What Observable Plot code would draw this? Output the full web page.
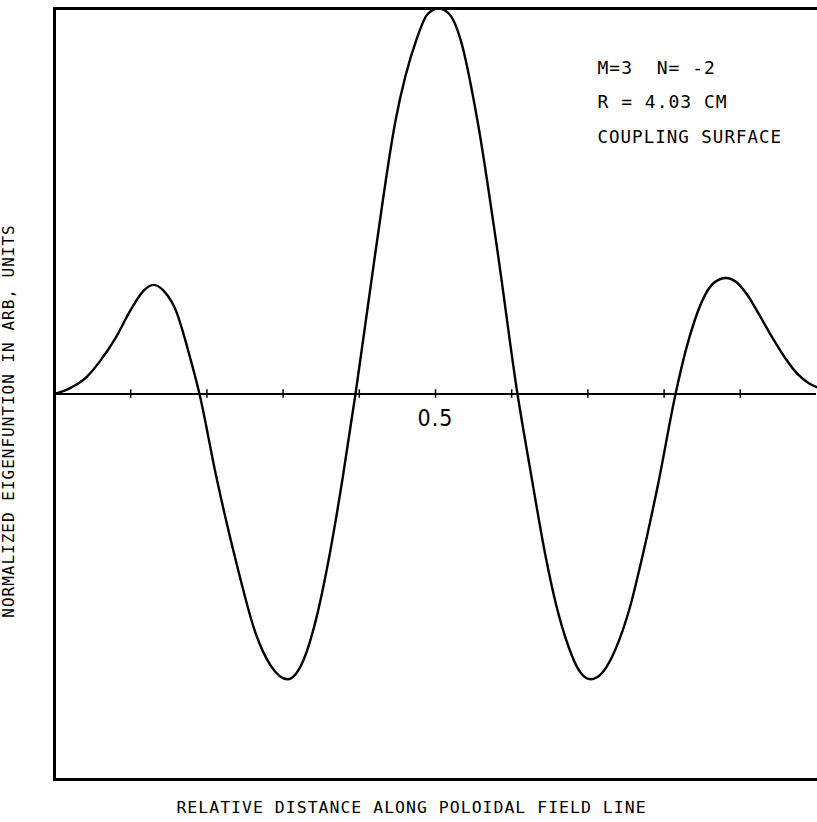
<!DOCTYPE html>
<html>
<head>
<meta charset="utf-8">
<script src="https://cdn.jsdelivr.net/npm/d3@7"></script>
<script src="https://cdn.jsdelivr.net/npm/@observablehq/plot@0.6"></script>
<style>
  html, body { margin: 0; padding: 0; background: #fff; }
  #chart svg { display: block; }
</style>
</head>
<body>
<div id="chart"></div>
<script>
// Relative distance along poloidal field line
const distance = [
  0.000, 0.021, 0.041, 0.060, 0.080, 0.100, 0.117, 0.130, 0.143, 0.161, 0.169, 0.178, 0.1903,
  0.2113, 0.2402, 0.2638, 0.2835, 0.3058, 0.3268, 0.3438, 0.3596, 0.3780, 0.3950,
  0.4199, 0.4475, 0.4751, 0.4895, 0.5039, 0.5184, 0.5328, 0.5551, 0.5814, 0.6076,
  0.6247, 0.6444, 0.6575, 0.6745, 0.6877, 0.7034, 0.7205, 0.7362, 0.7559, 0.7690, 0.7927, 0.8150,
  0.828, 0.840, 0.852, 0.865, 0.881, 0.895, 0.910, 0.925, 0.944, 0.960, 0.975, 0.990, 1.000
];
// Normalized eigenfunction (arb. units)
const eigen = [
  0.000, 0.016, 0.042, 0.086, 0.145, 0.218, 0.268, 0.283, 0.268, 0.208, 0.158, 0.094, 0.000,
  -0.205, -0.450, -0.620, -0.704, -0.740, -0.690, -0.580, -0.432, -0.220, 0.000,
  0.350, 0.709, 0.920, 0.985, 1.000, 0.985, 0.920, 0.709, 0.370, 0.000,
  -0.200, -0.420, -0.540, -0.655, -0.715, -0.740, -0.719, -0.662, -0.548, -0.443, -0.228, 0.000,
  0.110, 0.190, 0.250, 0.288, 0.301, 0.290, 0.255, 0.205, 0.140, 0.090, 0.052, 0.028, 0.018
];
const tickValues = [0.1, 0.2, 0.3, 0.4, 0.5, 0.6, 0.7, 0.8, 0.9];
const tickLabels = [{x: 0.5, label: "0.5"}];
const noteLines = ["M=3  N= -2", "R = 4.03 CM", "COUPLING SURFACE"];
const xTitle = "RELATIVE DISTANCE ALONG POLOIDAL FIELD LINE";
const yTitle = "NORMALIZED EIGENFUNTION IN ARB, UNITS";

const curve = distance.map((d, i) => ({x: d, y: eigen[i]}));
const font = "DejaVu Sans Mono, monospace";

const chart = Plot.plot({
  width: 817,
  height: 822,
  marginLeft: 54,
  marginRight: 1,
  marginTop: 8,
  marginBottom: 43,
  x: {domain: [0, 1], axis: null},
  y: {domain: [-1, 1], axis: null},
  style: {fontFamily: font, background: "#fff", color: "#000", overflow: "visible", letterSpacing: "1px"},
  marks: [
    // frame: left, top, bottom (right edge cut off)
    Plot.frame({anchor: "left", stroke: "#000", strokeWidth: 3}),
    Plot.frame({anchor: "top", stroke: "#000", strokeWidth: 3}),
    Plot.frame({anchor: "bottom", stroke: "#000", strokeWidth: 3}),
    Plot.ruleY([0], {stroke: "#000", strokeWidth: 2}),
    Plot.ruleX(tickValues, {y1: -0.011, y2: 0.011, stroke: "#000", strokeWidth: 1.5}),
    Plot.text(tickLabels, {x: "x", y: 0, text: "label", dy: 25, fontSize: 23, fill: "#000", fontFamily: "DejaVu Sans Condensed, sans-serif"}),
    Plot.line(curve, {x: "x", y: "y", stroke: "#000", strokeWidth: 2.4, curve: "monotone-x"}),
    Plot.text([noteLines[0]], {frameAnchor: "top-left", dx: 543, dy: 65, lineAnchor: "bottom", textAnchor: "start", fontSize: 18, fill: "#000"}),
    Plot.text([noteLines[1]], {frameAnchor: "top-left", dx: 543, dy: 99, lineAnchor: "bottom", textAnchor: "start", fontSize: 18, fill: "#000"}),
    Plot.text([noteLines[2]], {frameAnchor: "top-left", dx: 543, dy: 134, lineAnchor: "bottom", textAnchor: "start", fontSize: 17.5, fill: "#000"}),
    Plot.text([xTitle], {frameAnchor: "bottom", dx: -24, dy: 33, lineAnchor: "bottom", textAnchor: "middle", fontSize: 16.5, fill: "#000"}),
    Plot.text([yTitle], {frameAnchor: "left", dx: -46, dy: 27, rotate: -90, textAnchor: "middle", fontSize: 16, fill: "#000"})
  ]
});
document.getElementById("chart").appendChild(chart);
</script>
</body>
</html>
